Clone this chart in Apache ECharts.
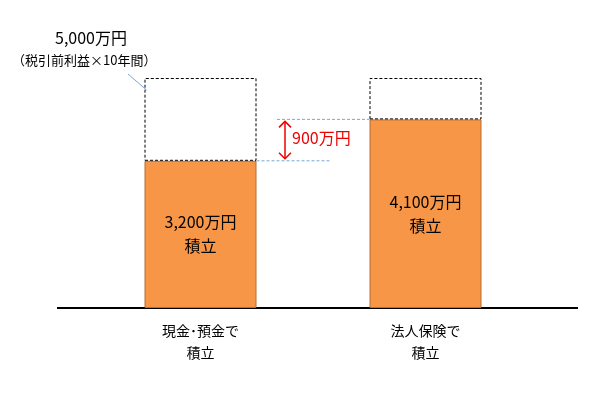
<!DOCTYPE html><html><head><meta charset="utf-8">
<script src="https://cdn.jsdelivr.net/npm/echarts@6/dist/echarts.min.js"></script>
<style>html,body{margin:0;background:#fff}#c{width:613px;height:404px}</style></head><body><div id="c"></div>
<script>
const categories=['現金･預金で\n積立','法人保険で\n積立'];
const saved=[3200,4100];
const total=[5000,5000];
const barLabels=['3,200万円\n積立','4,100万円\n積立'];
const font='"Noto Sans CJK JP"';
const chart=echarts.init(document.getElementById('c'));
chart.setOption({
 animation:false,
 grid:{left:88,width:450,top:78,bottom:96},
 xAxis:{type:'category',data:categories,axisLine:{show:false},axisTick:{show:false},
  axisLabel:{fontFamily:font,fontSize:14,color:'#000',lineHeight:22,margin:12}},
 yAxis:{type:'value',min:0,max:5000,show:false},
 series:[
  {type:'bar',stack:'a',barWidth:112,data:saved,
   itemStyle:{color:'#f79646',borderColor:'#b66d31',borderWidth:1},
   label:{show:true,position:'inside',fontFamily:font,fontSize:16,color:'#000',lineHeight:24,
     formatter:p=>barLabels[p.dataIndex]}},
  {type:'bar',stack:'a',barWidth:112,data:total.map((t,i)=>t-saved[i]),
   itemStyle:{color:'transparent',borderColor:'#000',borderWidth:1,borderType:[3,2]}}
 ]});
const P=(i,v)=>chart.convertToPixel({gridIndex:0},[i,v]);
const b0=P(0,0),t0=P(0,saved[0]),t1=P(1,saved[1]),top0=P(0,5000);
const blue='#7ba7d6';
chart.setOption({graphic:[
 {type:'line',shape:{x1:57,y1:b0[1],x2:578,y2:b0[1]},style:{stroke:'#000',lineWidth:2}},
 {type:'text',x:55,y:30,style:{text:'5,000万円',font:'16px '+font,fill:'#000'}},
 {type:'text',x:12,y:54,style:{text:'（税引前利益×10年間）',font:'13px '+font,fill:'#000'}},
 {type:'line',shape:{x1:128,y1:74,x2:top0[0]-54,y2:top0[1]+12},style:{stroke:blue,lineWidth:1}},
 {type:'line',shape:{x1:t0[0]+56,y1:t0[1],x2:330,y2:t0[1]},style:{stroke:blue,lineWidth:1,lineDash:[3,2]}},
 {type:'line',shape:{x1:277,y1:t1[1],x2:t1[0]-56,y2:t1[1]},style:{stroke:blue,lineWidth:1,lineDash:[3,2]}},
 {type:'line',shape:{x1:285,y1:t1[1]+2,x2:285,y2:t0[1]-2},style:{stroke:'#e00',lineWidth:1.5}},
 {type:'polyline',shape:{points:[[279,t1[1]+8],[285,t1[1]+2],[291,t1[1]+8]]},style:{stroke:'#e00',lineWidth:1.5,fill:null}},
 {type:'polyline',shape:{points:[[279,t0[1]-8],[285,t0[1]-2],[291,t0[1]-8]]},style:{stroke:'#e00',lineWidth:1.5,fill:null}},
 {type:'text',x:292,y:(t0[1]+t1[1])/2-10,style:{text:'900万円',font:'16px '+font,fill:'#e00'}}
]});
</script></body></html>
